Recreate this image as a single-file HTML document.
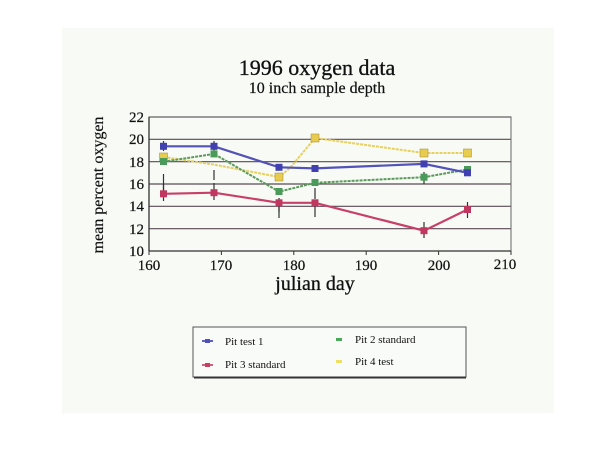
<!DOCTYPE html>
<html><head><meta charset="utf-8"><style>
html,body{margin:0;padding:0;background:#fff;}
svg{display:block;font-family:"Liberation Serif",serif;}
</style></head><body>
<svg width="600" height="450" viewBox="0 0 600 450">
<rect x="0" y="0" width="600" height="450" fill="#ffffff"/>
<rect x="62" y="28" width="492" height="385" fill="#f7faf5"/>
<text x="317" y="75" font-size="22" text-anchor="middle" fill="#111" stroke="#111" stroke-width="0.3">1996 oxygen data</text>
<text x="317" y="93" font-size="16" text-anchor="middle" fill="#111" stroke="#111" stroke-width="0.2">10 inch sample depth</text>
<g stroke="#5a4a55" stroke-width="1.2">
<line x1="149" y1="117" x2="511" y2="117"/>
<line x1="149" y1="139.3" x2="511" y2="139.3"/>
<line x1="149" y1="161.7" x2="511" y2="161.7"/>
<line x1="149" y1="184" x2="511" y2="184"/>
<line x1="149" y1="206.3" x2="511" y2="206.3"/>
<line x1="149" y1="228.7" x2="511" y2="228.7"/>
</g>
<rect x="149" y="117" width="362" height="134" fill="none" stroke="#666" stroke-width="1"/>
<line x1="149" y1="251" x2="511" y2="251" stroke="#333" stroke-width="1.3"/>
<line x1="149" y1="117" x2="149" y2="251" stroke="#333" stroke-width="1.3"/>
<g stroke="#333" stroke-width="1">
<line x1="149" y1="251" x2="149" y2="255"/><line x1="221.4" y1="251" x2="221.4" y2="255"/>
<line x1="293.8" y1="251" x2="293.8" y2="255"/><line x1="366.2" y1="251" x2="366.2" y2="255"/>
<line x1="438.6" y1="251" x2="438.6" y2="255"/><line x1="511" y1="251" x2="511" y2="255"/>
</g>
<g font-size="15" fill="#111" text-anchor="end" stroke="#111" stroke-width="0.2">
<text x="144" y="122">22</text><text x="144" y="144">20</text><text x="144" y="167">18</text>
<text x="144" y="189">16</text><text x="144" y="211">14</text><text x="144" y="234">12</text>
<text x="144" y="256">10</text>
</g>
<g font-size="15" fill="#111" text-anchor="middle" stroke="#111" stroke-width="0.2">
<text x="149" y="270">160</text><text x="221" y="270">170</text><text x="294" y="270">180</text>
<text x="366" y="270">190</text><text x="439" y="270">200</text><text x="505" y="269">210</text>
</g>
<text x="315" y="290" font-size="20" text-anchor="middle" fill="#111" stroke="#111" stroke-width="0.3">julian day</text>
<text transform="translate(103,185) rotate(-90)" font-size="16" text-anchor="middle" fill="#111" stroke="#111" stroke-width="0.2">mean percent oxygen</text>
<g stroke="#333" stroke-width="1.2">
<line x1="163.5" y1="141" x2="163.5" y2="151"/><line x1="214" y1="141" x2="214" y2="151"/>
<line x1="163.5" y1="174" x2="163.5" y2="192"/><line x1="214" y1="180" x2="214" y2="170"/>
<line x1="279" y1="198" x2="279" y2="212"/><line x1="315" y1="199" x2="315" y2="188"/>
<line x1="424" y1="184" x2="424" y2="172"/>
<line x1="163.5" y1="184" x2="163.5" y2="201"/><line x1="214" y1="183" x2="214" y2="200"/>
<line x1="279" y1="202" x2="279" y2="218"/><line x1="315" y1="201" x2="315" y2="217"/>
<line x1="424" y1="222" x2="424" y2="238"/><line x1="467.5" y1="202" x2="467.5" y2="218"/>
</g>
<polyline fill="none" stroke="#e8d060" stroke-width="2" stroke-dasharray="3,1" points="163.5,157 214,164.6 279,177 290,168 315,138 424,153 467.5,153"/>
<polyline fill="none" stroke="#5a9a5a" stroke-width="2" stroke-dasharray="3,1" points="163.5,161.7 214,153.9 279,191.7 315,182.8 424,177.2 467.5,169.4"/>
<polyline fill="none" stroke="#5252b8" stroke-width="2.2" points="163.5,146.3 214,146.3 279,167.3 315,168.4 424,163.9 467.5,172.8"/>
<polyline fill="none" stroke="#c8406a" stroke-width="2.2" points="163.5,193.8 214,192.7 279,202.8 315,202.8 424,230.7 467.5,209.5"/>
<g fill="#e8cc50" stroke="#a08830" stroke-width="0.5">
<rect x="311" y="134" width="8" height="8"/><rect x="420" y="149" width="8" height="8"/>
<rect x="463.5" y="149" width="8" height="8"/><rect x="275" y="173" width="8" height="8"/><rect x="159.5" y="153" width="8" height="8"/>
</g>
<g fill="#4a9a5a"><rect x="160" y="158" width="7" height="7"/><rect x="210.5" y="150.4" width="7" height="7"/>
<rect x="275.5" y="188" width="7" height="7"/><rect x="311.5" y="179" width="7" height="7"/>
<rect x="420.5" y="173.7" width="7" height="7"/><rect x="464" y="166" width="7" height="7"/></g>
<g fill="#4040b0"><rect x="160" y="142.8" width="7" height="7"/><rect x="210.5" y="142.8" width="7" height="7"/>
<rect x="275.5" y="163.8" width="7" height="7"/><rect x="311.5" y="165" width="7" height="7"/>
<rect x="420.5" y="160.4" width="7" height="7"/><rect x="464" y="169.3" width="7" height="7"/></g>
<g fill="#c03860"><rect x="160" y="190.3" width="7" height="7"/><rect x="210.5" y="189.2" width="7" height="7"/>
<rect x="275.5" y="199.3" width="7" height="7"/><rect x="311.5" y="199.3" width="7" height="7"/>
<rect x="420.5" y="227.2" width="7" height="7"/><rect x="464" y="206" width="7" height="7"/></g>
<rect x="193" y="327" width="273" height="50" fill="#f9fbf8" stroke="#555" stroke-width="1"/>
<line x1="194" y1="377.5" x2="466" y2="377.5" stroke="#333" stroke-width="2"/>
<g font-size="11" fill="#111">
<line x1="202" y1="341" x2="213" y2="341" stroke="#6060c0" stroke-width="2"/><rect x="205" y="339" width="5" height="4" fill="#5050b8"/>
<text x="225" y="345">Pit test 1</text>
<line x1="202" y1="365" x2="213" y2="365" stroke="#d06080" stroke-width="2"/><rect x="205" y="363" width="5" height="4" fill="#c84060"/>
<text x="225" y="368">Pit 3 standard</text>
<rect x="336" y="338" width="6" height="3" fill="#4aaa5a"/>
<text x="355" y="343">Pit 2 standard</text>
<rect x="336" y="360" width="6" height="3" fill="#f0e060"/>
<text x="355" y="365">Pit 4 test</text>
</g>
</svg>
</body></html>
